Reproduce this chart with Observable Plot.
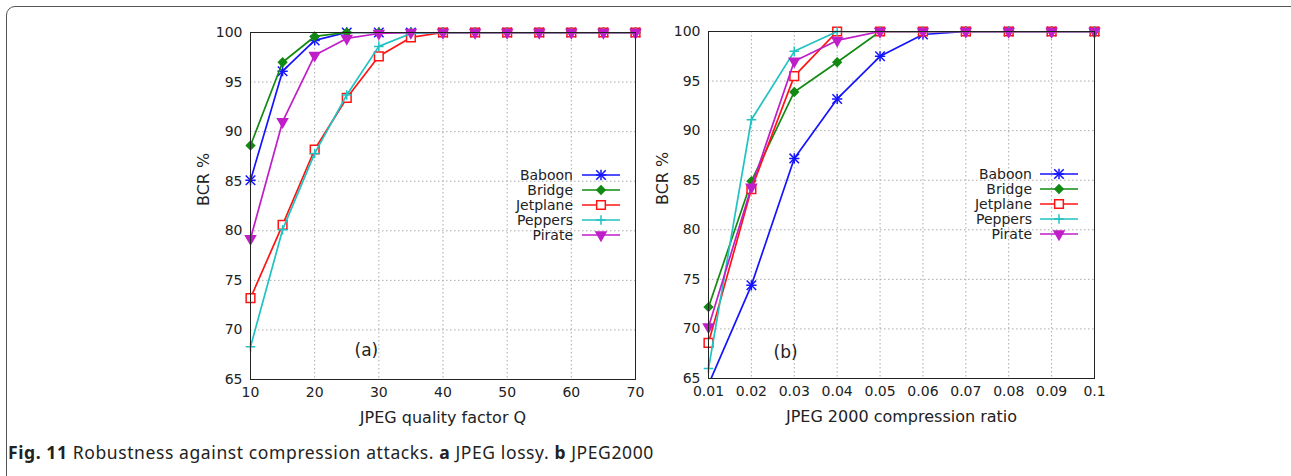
<!DOCTYPE html>
<html><head><meta charset="utf-8">
<script src="https://cdn.jsdelivr.net/npm/d3@7"></script>
<script src="https://cdn.jsdelivr.net/npm/@observablehq/plot@0.6"></script>
<style>
html,body{margin:0;padding:0;background:#fff;}
#root{position:relative;width:1291px;height:476px;overflow:hidden;font-family:"DejaVu Sans",sans-serif;}
#box{position:absolute;left:6px;top:6px;width:1400px;height:600px;border:1.5px solid #555;border-radius:9px;}
.chart{position:absolute;top:0;}
.legend{position:absolute;}
#caption{position:absolute;left:8px;top:440px;font-family:"Noto Sans",sans-serif;font-size:17.5px;letter-spacing:0.6px;line-height:24px;color:#222;white-space:nowrap;}
</style></head><body>
<div id="root">
  <div id="box"></div>
  <div id="caption"><b>Fig. 11</b> Robustness against compression attacks. <b>a</b> JPEG lossy. <b>b</b> JPEG2000</div>
</div>
<script>
const series = ["Baboon", "Bridge", "Jetplane", "Peppers", "Pirate"];
const colors = ["#1414ff", "#128a12", "#ff1414", "#20c2c2", "#c01ec8"];
const bcrTicks = [65, 70, 75, 80, 85, 90, 95, 100];

// (a) JPEG lossy
const qualityQ = [10, 15, 20, 25, 30, 35, 40, 45, 50, 55, 60, 65, 70];
const qTicks = [10, 20, 30, 40, 50, 60, 70];
const jpegBaboon   = [85.1, 96.1, 99.2, 100, 100, 100, 100, 100, 100, 100, 100, 100, 100];
const jpegBridge   = [88.6, 97.0, 99.6, 100, 100, 100, 100, 100, 100, 100, 100, 100, 100];
const jpegJetplane = [73.2, 80.6, 88.2, 93.4, 97.6, 99.5, 100, 100, 100, 100, 100, 100, 100];
const jpegPeppers  = [68.3, 80.1, 87.8, 93.7, 98.6, 99.9, 100, 100, 100, 100, 100, 100, 100];
const jpegPirate   = [79.2, 91.0, 97.7, 99.4, 99.9, 100, 100, 100, 100, 100, 100, 100, 100];

// (b) JPEG 2000
const ratio = [0.01, 0.02, 0.03, 0.04, 0.05, 0.06, 0.07, 0.08, 0.09, 0.1];
const j2kBaboon   = [64.4, 74.4, 87.2, 93.2, 97.5, 99.7, 100, 100, 100, 100];
const j2kBridge   = [72.2, 84.9, 93.9, 96.9, 100, 100, 100, 100, 100, 100];
const j2kJetplane = [68.6, 84.1, 95.5, 100, 100, 100, 100, 100, 100, 100];
const j2kPeppers  = [66.0, 91.1, 98.0, 100, 100, 100, 100, 100, 100, 100];
const j2kPirate   = [70.2, 84.3, 97.0, 99.1, 100, 100, 100, 100, 100, 100];

// marker definitions: [symbol, r, filled, rotate]
const markerDefs = {
  Baboon:   [["plus", 3.4, false, 0], ["times", 4.4, false, 0]],
  Bridge:   [["diamond2", 3.7, true, 0]],
  Jetplane: [["square", 4.9, "white", 0]],
  Peppers:  [["plus", 3.2, false, 0]],
  Pirate:   [["triangle", 3.7, true, 180]]
};
const colorOf = s => colors[series.indexOf(s)];

function makeChart(cfg) {
  const rows = [];
  series.forEach((s, i) => cfg.xs.forEach((x, j) => rows.push({series: s, x, y: cfg.vals[i][j]})));
  const gridStyle = {stroke: "#aaa", strokeOpacity: 1, strokeDasharray: "1.5,2.5", strokeWidth: 1};
  const marks = [
    Plot.gridX(cfg.xTicks, gridStyle),
    Plot.gridY(bcrTicks, gridStyle),
    Plot.axisX(cfg.xTicks, {tickSize: 0, tickPadding: 8, tickFormat: cfg.xFmt, fontSize: 14, label: null}),
    Plot.axisY(bcrTicks, {tickSize: 0, tickPadding: 8, fontSize: 14, label: null}),
    Plot.text([cfg.xLabel], {frameAnchor: "bottom", dy: 38, lineAnchor: "middle", fontSize: 16, fill: "#222"}),
    Plot.text(["BCR %"], {frameAnchor: "left", dx: cfg.yLabelDx, rotate: -90, fontSize: 16, fill: "#222"}),
    Plot.text([cfg.tag], {frameAnchor: "bottom-left", dx: cfg.tagDx, dy: cfg.tagDy, lineAnchor: "middle", fontSize: 17, fill: "#222"})
  ];
  series.forEach(s => {
    const d = rows.filter(r => r.series === s);
    marks.push(Plot.line(d, {x: "x", y: "y", stroke: "series", strokeWidth: 1.7, clip: true}));
    const dv = d.filter(r => r.y >= 65);
    markerDefs[s].forEach(([sym, r, filled, rot]) => {
      marks.push(Plot.dot(dv, {
        x: "x", y: "y", symbol: () => sym, r, rotate: rot,
        stroke: "series", strokeWidth: 1.5,
        fill: filled === true ? "series" : (filled === "white" ? "white" : "none")
      }));
    });
  });
  marks.push(Plot.frame({stroke: "#222", strokeWidth: 1}));
  return Plot.plot({
    width: cfg.width, height: cfg.height,
    marginLeft: cfg.ml, marginRight: cfg.mr, marginTop: cfg.mt, marginBottom: cfg.mb,
    style: {fontFamily: "DejaVu Sans", fontSize: "14px", color: "#222", background: "transparent", overflow: "visible"},
    x: {domain: cfg.xDomain},
    y: {domain: [65, 100]},
    color: {domain: series, range: colors},
    symbol: {domain: ["plus","times","diamond2","square","triangle"], range: ["plus","times","diamond2","square","triangle"]},
    marks
  });
}

function makeLegend(left, top, textX, lineX0, lineX1, rowY0) {
  const w = 170, h = 90;
  const svg = d3.create("svg").attr("width", w).attr("height", h).attr("class", "legend")
    .style("left", left + "px").style("top", top + "px").style("overflow", "visible");
  const symTypes = {plus: d3.symbolPlus, times: d3.symbolTimes, diamond2: d3.symbolDiamond2, square: d3.symbolSquare, triangle: d3.symbolTriangle};
  series.forEach((s, i) => {
    const y = rowY0 + i * 15;
    const c = colorOf(s);
    svg.append("text").attr("x", textX).attr("y", y).attr("dy", "0.35em").attr("text-anchor", "end")
      .attr("font-family", "DejaVu Sans").attr("font-size", 14).attr("fill", "#222").text(s);
    svg.append("line").attr("x1", lineX0).attr("x2", lineX1).attr("y1", y).attr("y2", y)
      .attr("stroke", c).attr("stroke-width", 1.7);
    const mx = (lineX0 + lineX1) / 2;
    markerDefs[s].forEach(([sym, r, filled, rot]) => {
      svg.append("path").attr("d", d3.symbol(symTypes[sym], Math.PI * r * r)())
        .attr("transform", `translate(${mx},${y}) rotate(${rot})`)
        .attr("stroke", c).attr("stroke-width", 1.5)
        .attr("fill", filled === true ? c : (filled === "white" ? "white" : "none"));
    });
  });
  return svg.node();
}

const root = document.getElementById("root");
const vf = d3.format("~g");

const a = makeChart({
  xs: qualityQ, vals: [jpegBaboon, jpegBridge, jpegJetplane, jpegPeppers, jpegPirate],
  xDomain: [10, 70], xTicks: qTicks, xFmt: vf, xLabel: "JPEG quality factor Q", tag: "(a)",
  width: 470, height: 430, ml: 70, mr: 15, mt: 32, mb: 51, yLabelDx: -47, tagDx: 104, tagDy: -29
});
a.classList.add("chart"); a.style.left = "180px"; a.style.position = "absolute"; a.style.top = "0px";
root.appendChild(a);

const b = makeChart({
  xs: ratio, vals: [j2kBaboon, j2kBridge, j2kJetplane, j2kPeppers, j2kPirate],
  xDomain: [0.01, 0.1], xTicks: ratio, xFmt: vf, xLabel: "JPEG 2000 compression ratio", tag: "(b)",
  width: 470, height: 430, ml: 68, mr: 16, mt: 31, mb: 52, yLabelDx: -46, tagDx: 65, tagDy: -26
});
b.classList.add("chart"); b.style.left = "640px"; b.style.position = "absolute"; b.style.top = "0px";
root.appendChild(b);

const la = makeLegend(480, 160, 93, 102, 140, 15);
la.style.position = "absolute";
root.appendChild(la);
const lb = makeLegend(940, 160, 92, 100, 138, 14);
lb.style.position = "absolute";
root.appendChild(lb);
</script>
</body></html>
